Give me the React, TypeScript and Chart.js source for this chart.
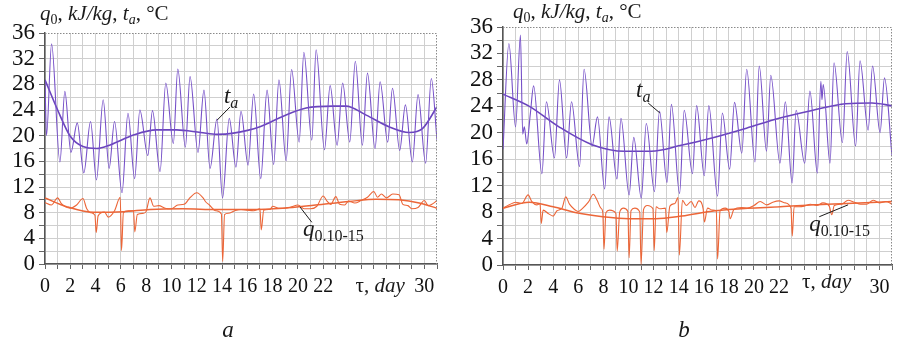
import React, { useEffect, useRef } from 'react';
import { Chart, registerables } from 'chart.js';
Chart.register(...registerables);

const FONT = '"Liberation Serif", "Times New Roman", serif';

// Tick labels
const yLabelValues = [0, 4, 8, 12, 16, 20, 24, 28, 32, 36];
const xLabelDays = [0, 2, 4, 6, 8, 10, 12, 14, 16, 18, 20, 22, 30];

// ---------- Panel a ----------
const taA_x = [0, 0.12, 0.52, 1.18, 1.57, 2.05, 2.55, 3.07, 3.6, 4.07, 4.6, 5.07, 5.5, 6.09, 6.56, 7.09, 7.5, 8.13, 8.5, 9.1, 9.55, 10.15, 10.5, 11.1, 11.47, 12.1, 12.57, 13.05, 13.6, 14.04, 14.57, 15.1, 15.5, 16.06, 16.5, 17.06, 17.56, 18.08, 18.5, 19.07, 19.5, 20.1, 20.47, 21.1, 21.44, 22.1, 22.55, 23.1, 23.54, 24.1, 24.54, 25.1, 25.5, 26.1, 26.5, 27.1, 27.48, 28.05, 28.5, 29.05, 29.5, 30.1, 30.55, 31];
const taA_y = [28.5, 20.0, 34.3, 15.9, 26.9, 17.4, 22.0, 14.2, 22.2, 13.1, 25.6, 14.9, 22.2, 11.1, 23.5, 13.3, 24.0, 16.9, 23.9, 14.4, 28.2, 18.8, 30.4, 18.2, 29.2, 17.4, 27.1, 14.9, 22.6, 10.3, 22.7, 15.1, 23.8, 15.4, 26.5, 13.3, 27.1, 15.5, 28.7, 16.1, 30.3, 19.0, 33.0, 19.3, 33.4, 17.8, 27.8, 18.5, 28.2, 19.0, 31.6, 18.5, 29.75, 18.0, 28.4, 19.0, 27.4, 17.7, 24.8, 15.9, 26.4, 15.7, 28.9, 19.3];
const taTrendA_x = [0, 1, 2, 3, 4.1, 5.2, 7, 8.8, 10.4, 12.3, 13.6, 14.9, 17, 18.8, 20.65, 22.75, 23.8, 25.4, 27.2, 28.8, 29.85, 31];
const taTrendA_y = [28.7, 24.0, 19.9, 18.3, 18.0, 18.6, 20.1, 20.9, 20.9, 20.5, 20.2, 20.4, 21.4, 23.0, 24.3, 24.6, 24.6, 23.2, 21.4, 20.5, 21.1, 24.5];
const qA_x = [0, 0.5, 1, 1.3, 2, 2.5, 3, 3.3, 3.6, 3.95, 4.05, 4.2, 4.7, 5, 5.5, 5.95, 6.05, 6.2, 6.6, 7, 7.1, 7.3, 7.8, 8, 8.3, 8.6, 9, 9.5, 10, 10.5, 11, 11.5, 12, 12.5, 12.7, 13, 13.5, 13.95, 14.05, 14.2, 14.5, 15, 15.5, 16, 16.5, 17, 17.1, 17.3, 17.8, 18, 18.5, 19, 19.5, 20, 20.5, 21, 21.5, 22, 22.3, 22.6, 23, 23.3, 23.7, 24, 24.5, 25, 25.5, 26, 26.3, 26.6, 27, 27.5, 28, 28.3, 28.7, 29, 29.5, 30, 30.3, 30.6, 31];
const qA_y = [9.6, 9.2, 10.3, 9.4, 8.7, 9.2, 10.2, 8.6, 8.0, 7.6, 4.9, 7.5, 8.1, 7.3, 8.3, 10.4, 2.1, 8.0, 8.3, 8.3, 5.0, 7.7, 7.9, 8.2, 10.3, 9.0, 9.1, 8.7, 8.6, 9.2, 9.3, 10.4, 11.1, 10.3, 9.7, 9.2, 8.3, 7.8, 0.4, 7.7, 7.9, 8.3, 8.5, 8.4, 8.3, 8.6, 5.3, 8.4, 8.5, 9.0, 8.7, 8.7, 8.9, 9.2, 8.6, 8.6, 9.0, 10.6, 9.8, 9.3, 10.5, 9.3, 9.2, 9.8, 9.5, 9.9, 10.4, 11.3, 10.4, 10.9, 10.3, 10.9, 10.8, 9.3, 9.1, 8.6, 8.8, 9.9, 9.1, 9.3, 9.9];
const qTrendA_x = [0, 1.76, 3.86, 6.2, 8.3, 10.9, 13.6, 16.2, 18.8, 21.4, 24.07, 26.2, 28, 29.6, 31];
const qTrendA_y = [10.3, 8.9, 8.05, 8.15, 8.5, 8.6, 8.5, 8.5, 8.7, 9.2, 9.75, 10.1, 10.0, 9.5, 8.7];

// ---------- Panel b ----------
const taB_x = [0, 0.47, 1.0, 1.39, 1.57, 1.7, 1.89, 2.18, 2.44, 3.1, 3.46, 4.1, 4.5, 5.07, 5.46, 6.1, 6.46, 7.1, 7.53, 8.1, 8.45, 9.08, 9.4, 10.05, 10.42, 11.02, 11.42, 12.07, 12.47, 13.07, 13.42, 14.07, 14.44, 15.1, 15.43, 16.04, 16.4, 17.1, 17.48, 18.06, 18.45, 19.03, 19.42, 20.08, 20.42, 21.0, 21.34, 22.07, 22.5, 23.04, 23.36, 24.04, 24.46, 25.05, 25.33, 25.42, 25.52, 26.06, 26.38, 27.05, 27.43, 28.1, 28.45, 29.1, 29.45, 30.05, 30.4, 31];
const taB_y = [17.5, 33.5, 20.9, 34.8, 19.8, 20.9, 18.3, 22.9, 27.1, 13.8, 24.7, 16.2, 28.0, 16.2, 24.7, 14.9, 29.6, 18.0, 22.4, 11.5, 22.4, 13.0, 22.2, 10.6, 19.3, 10.1, 21.4, 11.1, 23.3, 12.5, 24.3, 10.8, 23.4, 13.8, 24.1, 13.5, 24.1, 10.4, 23.0, 14.5, 24.6, 16.9, 29.6, 15.6, 30.1, 17.2, 28.7, 15.4, 24.7, 12.4, 23.4, 15.4, 26.3, 13.9, 27.8, 25.0, 27.3, 15.4, 30.6, 18.5, 32.3, 18.0, 30.9, 20.4, 30.1, 20.0, 28.3, 16.5];
const taTrendB_x = [0, 2.1, 4.46, 7.1, 9.7, 11.8, 14.2, 16.8, 19.4, 22, 24.7, 27.3, 29.4, 31];
const taTrendB_y = [25.85, 24.0, 20.9, 18.2, 17.2, 17.2, 18.1, 19.3, 20.7, 22.2, 23.4, 24.4, 24.5, 24.1];
const qB_x = [0, 0.5, 1, 1.5, 2, 2.3, 2.7, 2.95, 3.05, 3.2, 3.6, 4, 4.3, 4.7, 5, 5.3, 5.7, 6, 6.3, 6.8, 7.2, 7.5, 7.8, 7.95, 8.05, 8.2, 8.5, 9, 9.1, 9.3, 9.6, 9.95, 10.05, 10.2, 10.5, 10.9, 11.0, 11.2, 11.5, 11.95, 12.05, 12.2, 12.5, 12.95, 13.05, 13.3, 13.7, 13.95, 14.05, 14.3, 14.6, 15, 15.3, 15.6, 15.95, 16.05, 16.3, 16.7, 17, 17.1, 17.3, 17.7, 18, 18.1, 18.4, 19, 19.5, 20, 20.5, 21, 21.5, 22, 22.5, 22.95, 23.05, 23.2, 23.6, 24, 24.5, 25, 25.5, 26, 26.2, 26.4, 27, 27.5, 28, 28.5, 29, 29.5, 30, 30.5, 31];
const qB_y = [8.6, 9.1, 9.5, 9.3, 10.6, 9.6, 9.1, 9.3, 6.3, 8.3, 7.8, 7.4, 8.2, 8.6, 10.3, 9.2, 8.4, 8.1, 8.5, 9.5, 10.7, 9.8, 8.6, 8.0, 2.4, 7.9, 8.3, 7.8, 2.1, 8.0, 8.6, 8.1, 1.1, 8.2, 8.6, 8.0, 0.1, 8.4, 9.0, 8.5, 2.2, 8.8, 8.5, 8.6, 4.9, 8.9, 9.3, 10.2, 1.5, 9.8, 9.0, 9.6, 8.7, 9.7, 8.5, 6.5, 8.6, 8.3, 8.2, 0.9, 8.2, 8.6, 8.1, 7.0, 8.4, 8.7, 8.6, 9.0, 9.6, 9.1, 9.5, 9.7, 9.4, 8.6, 4.4, 8.8, 8.8, 8.9, 9.2, 9.0, 9.4, 8.9, 7.6, 9.0, 9.2, 9.8, 9.5, 9.2, 9.2, 9.8, 9.4, 9.6, 9.2];
const qTrendB_x = [0, 2.1, 4, 5.85, 7.95, 10.05, 12.15, 14.25, 16.9, 19.5, 22.1, 24.75, 27.4, 31];
const qTrendB_y = [8.6, 9.5, 8.8, 7.9, 7.3, 7.0, 7.0, 7.4, 8.2, 8.6, 8.8, 9.1, 9.3, 9.6];

const PURPLE = '#7650c8';
const ORANGE = '#ec6638';

type Part = { t: string; it?: boolean; s: number; dy?: number };

function drawParts(ctx: CanvasRenderingContext2D, x: number, y: number, parts: Part[], align: 'left' | 'center' = 'left') {
  let total = 0;
  for (const p of parts) {
    ctx.font = `${p.it ? 'italic ' : ''}${p.s}px ${FONT}`;
    total += ctx.measureText(p.t).width;
  }
  let cx = align === 'center' ? x - total / 2 : x;
  ctx.textAlign = 'left';
  ctx.textBaseline = 'alphabetic';
  for (const p of parts) {
    ctx.font = `${p.it ? 'italic ' : ''}${p.s}px ${FONT}`;
    ctx.fillText(p.t, cx, y + (p.dy || 0));
    cx += ctx.measureText(p.t).width;
  }
}

const titleParts: Part[] = [
  { t: 'q', it: true, s: 21 },
  { t: '0', s: 14, dy: 4 },
  { t: ', ', s: 21 },
  { t: 'kJ/kg', it: true, s: 21 },
  { t: ', ', s: 21 },
  { t: 't', it: true, s: 21 },
  { t: 'a', it: true, s: 14, dy: 4 },
  { t: ', °C', s: 21 },
];
const taParts: Part[] = [
  { t: 't', it: true, s: 23 },
  { t: 'a', it: true, s: 16, dy: 5 },
];
const qParts: Part[] = [
  { t: 'q', it: true, s: 23 },
  { t: '0.10-15', s: 16, dy: 5 },
];
const axisParts: Part[] = [
  { t: 'τ, ', s: 21 },
  { t: 'day', it: true, s: 21 },
];

type PanelCfg = {
  taX: number[]; taY: number[]; taTX: number[]; taTY: number[];
  qX: number[]; qY: number[]; qTX: number[]; qTY: number[];
  yAxisWidth: number; pad: { top: number; right: number; bottom: number; left: number };
  titleDx: number; titleDy: number;
  taText: [number, number]; taLine: [number, number, number, number];
  qText: [number, number]; qLine: [number, number, number, number];
  axisLabelX: number; axisLabelDy: number;
};

const panelA: PanelCfg = {
  taX: taA_x, taY: taA_y, taTX: taTrendA_x, taTY: taTrendA_y,
  qX: qA_x, qY: qA_y, qTX: qTrendA_x, qTY: qTrendA_y,
  yAxisWidth: 45, pad: { top: 33, right: 12, bottom: 47, left: 0 },
  titleDx: -5, titleDy: -13,
  taText: [14.15, 25.1], taLine: [14.62, 24.45, 13.6, 22.4],
  qText: [20.4, 4.36], qLine: [21.1, 6.5, 20.16, 8.9],
  axisLabelX: 26.5, axisLabelDy: 28,
};
const panelB: PanelCfg = {
  taX: taB_x, taY: taB_y, taTX: taTrendB_x, taTY: taTrendB_y,
  qX: qB_x, qY: qB_y, qTX: qTrendB_x, qTY: qTrendB_y,
  yAxisWidth: 54, pad: { top: 27, right: 1, bottom: 46, left: 0 },
  titleDx: 10, titleDy: -9,
  taText: [10.6, 25.4], taLine: [11.57, 24.5, 12.5, 23.0],
  qText: [24.4, 5.1], qLine: [25.2, 7.3, 27.5, 9.1],
  axisLabelX: 25.8, axisLabelDy: 23,
};

function pts(xs: number[], ys: number[]) {
  return xs.map((x, i) => ({ x, y: ys[i] }));
}

function makeChart(canvas: HTMLCanvasElement, cfg: PanelCfg) {
  const overlay = {
    id: 'overlay',
    afterDraw(chart: any) {
      const ctx: CanvasRenderingContext2D = chart.ctx;
      const { left, right, top, bottom } = chart.chartArea;
      const xs = chart.scales.x;
      const ys = chart.scales.y;
      ctx.save();
      // dotted top/right border
      ctx.strokeStyle = '#8a8a8a';
      ctx.lineWidth = 1;
      ctx.setLineDash([1.5, 1.5]);
      ctx.beginPath();
      ctx.moveTo(left, top + 0.5);
      ctx.lineTo(right - 0.5, top + 0.5);
      ctx.lineTo(right - 0.5, bottom);
      ctx.stroke();
      ctx.setLineDash([]);
      ctx.fillStyle = '#1a1a1a';
      // title
      drawParts(ctx, left + cfg.titleDx, top + cfg.titleDy, titleParts);
      // axis label
      drawParts(ctx, xs.getPixelForValue(cfg.axisLabelX), bottom + cfg.axisLabelDy, axisParts, 'center');
      // series labels
      drawParts(ctx, xs.getPixelForValue(cfg.taText[0]), ys.getPixelForValue(cfg.taText[1]), taParts);
      drawParts(ctx, xs.getPixelForValue(cfg.qText[0]), ys.getPixelForValue(cfg.qText[1]), qParts);
      ctx.strokeStyle = '#1a1a1a';
      ctx.lineWidth = 1;
      for (const l of [cfg.taLine, cfg.qLine]) {
        ctx.beginPath();
        ctx.moveTo(xs.getPixelForValue(l[0]), ys.getPixelForValue(l[1]));
        ctx.lineTo(xs.getPixelForValue(l[2]), ys.getPixelForValue(l[3]));
        ctx.stroke();
      }
      ctx.restore();
    },
  };

  const lineDs = (data: any[], color: string, width: number, tension: number) => ({
    data, borderColor: color, borderWidth: width, pointRadius: 0, fill: false,
    tension, cubicInterpolationMode: 'monotone' as const,
  });

  return new Chart(canvas, {
    type: 'line',
    data: {
      datasets: [
        lineDs(pts(cfg.qX, cfg.qY), ORANGE, 1.1, 0.3),
        lineDs(pts(cfg.qTX, cfg.qTY), ORANGE, 1.5, 0.4),
        lineDs(pts(cfg.taX, cfg.taY), PURPLE, 1.1, 0.4),
        lineDs(pts(cfg.taTX, cfg.taTY), '#6a44bd', 1.6, 0.4),
      ],
    },
    options: {
      animation: false,
      responsive: false,
      devicePixelRatio: 1,
      layout: { padding: cfg.pad },
      plugins: { legend: { display: false }, tooltip: { enabled: false }, title: { display: false } },
      scales: {
        x: {
          type: 'linear', min: 0, max: 31,
          afterFit: (s: any) => { s.height = 36; },
          grid: {
            color: (c: any) => (c.tick && c.tick.value === 31 ? 'rgba(0,0,0,0)' : '#cfcfcf'),
            lineWidth: 1, tickLength: 5, tickColor: '#666',
          },
          border: { color: '#555', width: 1.5 },
          ticks: {
            stepSize: 1, autoSkip: false, maxRotation: 0, padding: 6, color: '#111',
            font: { family: FONT, size: 20 },
            callback: (v: any) => (xLabelDays.includes(Number(v)) ? String(v) : ''),
          },
        },
        y: {
          type: 'linear', min: 0, max: 36,
          afterFit: (s: any) => { s.width = cfg.yAxisWidth; },
          grid: {
            color: (c: any) => (c.tick && c.tick.value === 36 ? 'rgba(0,0,0,0)' : '#cfcfcf'),
            lineWidth: 1, tickLength: 6, tickColor: '#666',
          },
          border: { color: '#555', width: 1.5 },
          ticks: {
            stepSize: 2, autoSkip: false, padding: 4, color: '#111',
            font: { family: FONT, size: 23 },
            callback: (v: any) => (yLabelValues.includes(Number(v)) ? String(v) : ''),
          },
        },
      },
    },
    plugins: [overlay],
  } as any);
}

export default function App() {
  const refA = useRef<HTMLCanvasElement>(null);
  const refB = useRef<HTMLCanvasElement>(null);
  useEffect(() => {
    const a = makeChart(refA.current!, panelA);
    const b = makeChart(refB.current!, panelB);
    return () => { a.destroy(); b.destroy(); };
  }, []);
  const cap: React.CSSProperties = {
    position: 'absolute', top: 315, width: 40, textAlign: 'center',
    fontFamily: FONT, fontStyle: 'italic', fontSize: 23, lineHeight: '30px', color: '#1a1a1a',
  };
  return (
    <div style={{ position: 'absolute', left: 0, top: 0, width: 898, height: 347, background: '#fff', overflow: 'hidden' }}>
      <canvas ref={refA} width={449} height={347} style={{ position: 'absolute', left: 0, top: 0, width: 449, height: 347 }} />
      <canvas ref={refB} width={449} height={347} style={{ position: 'absolute', left: 449, top: 0, width: 449, height: 347 }} />
      <div style={{ ...cap, left: 208 }}>a</div>
      <div style={{ ...cap, left: 664 }}>b</div>
    </div>
  );
}
